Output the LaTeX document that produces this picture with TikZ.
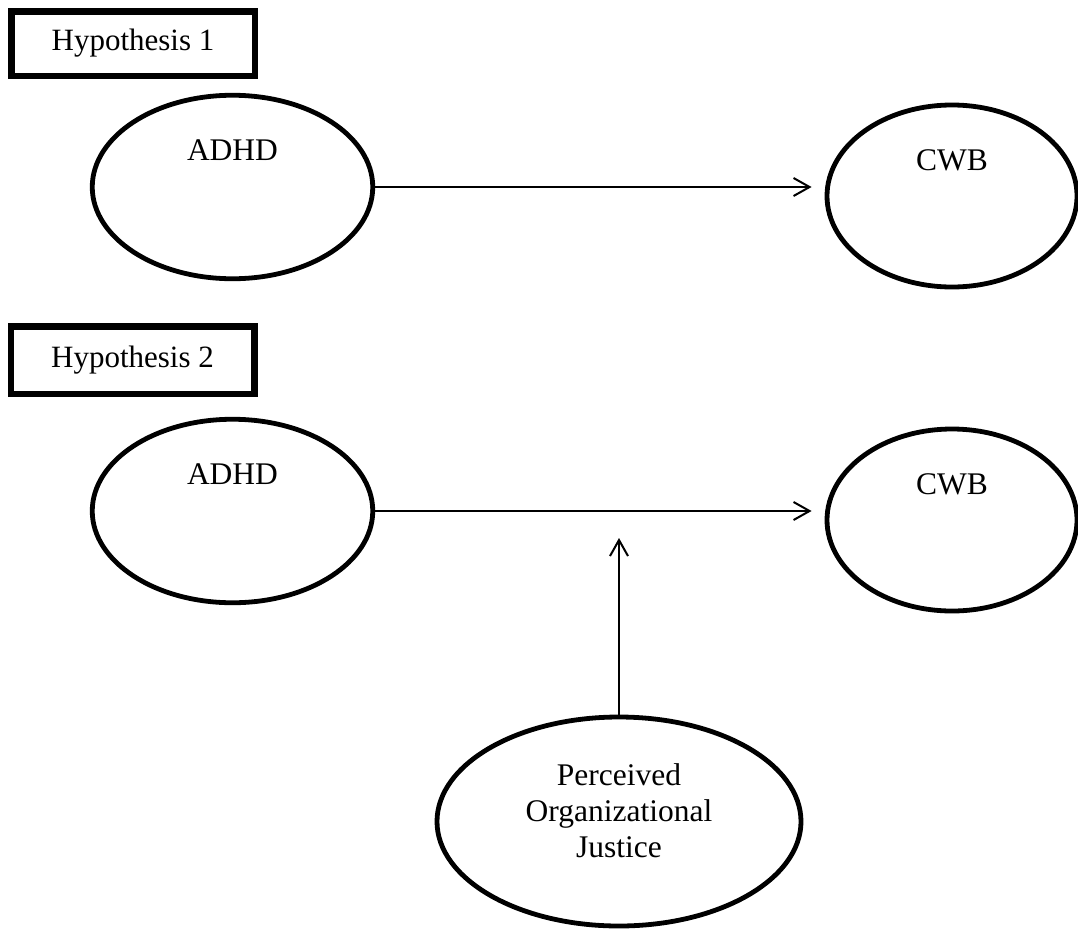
\documentclass[tikz,border=0pt]{standalone}
\usepackage{fontspec}
\setmainfont{Liberation Serif}
\usetikzlibrary{arrows.meta,shapes.geometric}
\begin{document}
\begin{tikzpicture}[x=1pt,y=-1pt,
  hbox/.style={draw,line width=6.5pt,minimum width=243.5pt,inner sep=0pt,font=\fontsize{31}{36}\selectfont},
  oval/.style={draw,ellipse,line width=4.8pt,inner sep=0pt},
  lbl/.style={font=\fontsize{31.5}{36}\selectfont,inner sep=0pt,anchor=base,align=center},
  arr/.style={line width=2pt,-{Straight Barb[length=16pt,width=18pt,line width=2pt]}}]
\useasboundingbox (0,0) rectangle (1078,929);
\fill[white] (0,0) rectangle (1078,929);
% Hypothesis 1
\node[hbox,minimum height=64.5pt] (h1) at (133,43.5) {Hypothesis 1};
\node[oval,minimum width=280.5pt,minimum height=183.5pt] (a1) at (232.5,187) {};
\node[oval,minimum width=250pt,minimum height=182pt] (c1) at (952,196) {};
\node[lbl] (ta1) at ([yshift=27pt]a1.center) {ADHD};
\node[lbl] (tc1) at ([yshift=26pt]c1.center) {CWB};
\draw[arr] (a1.east) -- ([xshift=-13pt]c1.west |- a1.east);
% Hypothesis 2
\node[hbox,minimum height=67.5pt] (h2) at (132.5,360) {Hypothesis 2};
\node[oval,minimum width=280.5pt,minimum height=183.5pt] (a2) at (232.5,511) {};
\node[oval,minimum width=250pt,minimum height=182pt] (c2) at (952,520) {};
\node[lbl] (ta2) at ([yshift=27pt]a2.center) {ADHD};
\node[lbl] (tc2) at ([yshift=26pt]c2.center) {CWB};
\draw[arr] (a2.east) -- ([xshift=-13pt]c2.west |- a2.east);
% Moderator
\node[oval,minimum width=364pt,minimum height=209pt] (e3) at (619,821.5) {};
\node[lbl,anchor=north] (te3) at ([yshift=58pt]e3.center) {Perceived\\Organizational\\Justice};
\coordinate (m) at (620,538);
\draw[arr] (e3.north) -- (e3.north |- m);
\end{tikzpicture}
\end{document}
